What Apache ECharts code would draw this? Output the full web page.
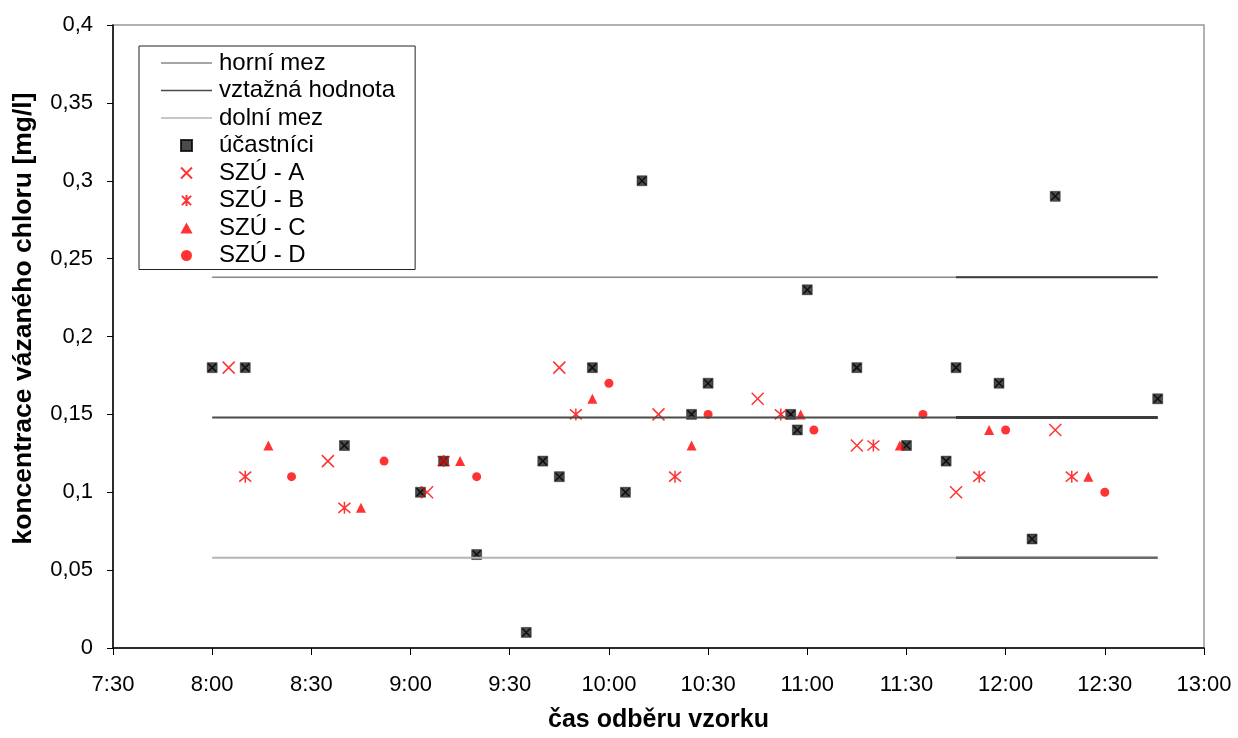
<!DOCTYPE html>
<html>
<head>
<meta charset="utf-8">
<script src="https://cdn.jsdelivr.net/npm/echarts@6/dist/echarts.min.js"></script>
<style>
    html, body { margin: 0; padding: 0; background: #fff; }
    #chart { width: 1238px; height: 738px; }
</style>
</head>
<body>
<div id="chart"></div>
<script>
    // limit lines
    var limitNames = ['horní mez', 'vztažná hodnota', 'dolní mez'];
    var limitValues = [0.238, 0.148, 0.058];
    var limitSpan = ['8:00', '12:46'];
    var limitSplit = '11:45';

    // participants
    var ucTimes = ['8:00', '8:10', '8:40', '9:03', '9:10', '9:20', '9:35', '9:40', '9:45', '9:55', '10:05', '10:10', '10:25',
        '10:30', '10:55', '10:57', '11:00', '11:15', '11:30', '11:42', '11:45', '11:58', '12:08', '12:15', '12:46'];
    var ucValues = [0.18, 0.18, 0.13, 0.10, 0.12, 0.06, 0.01, 0.12, 0.11, 0.18, 0.10, 0.30, 0.15,
        0.17, 0.15, 0.14, 0.23, 0.18, 0.13, 0.12, 0.18, 0.17, 0.07, 0.29, 0.16];

    var aTimes = ['8:05', '8:35', '9:05', '9:45', '10:15', '10:45', '11:15', '11:45', '12:15'];
    var aValues = [0.18, 0.12, 0.10, 0.18, 0.15, 0.16, 0.13, 0.10, 0.14];

    var bTimes = ['8:10', '8:40', '9:10', '9:50', '10:20', '10:52', '11:20', '11:52', '12:20'];
    var bValues = [0.11, 0.09, 0.12, 0.15, 0.11, 0.15, 0.13, 0.11, 0.11];

    var cTimes = ['8:17', '8:45', '9:15', '9:55', '10:25', '10:58', '11:28', '11:55', '12:25'];
    var cValues = [0.13, 0.09, 0.12, 0.16, 0.13, 0.15, 0.13, 0.14, 0.11];

    var dTimes = ['8:24', '8:52', '9:20', '10:00', '10:30', '11:02', '11:35', '12:00', '12:30'];
    var dValues = [0.11, 0.12, 0.11, 0.17, 0.15, 0.14, 0.15, 0.14, 0.10];

    function toMin(t) {
        var p = t.split(':');
        return parseInt(p[0], 10) * 60 + parseInt(p[1], 10);
    }
    function pairs(times, values) {
        return times.map(function (t, i) { return [toMin(t), values[i]]; });
    }

    var xPath = 'path://M0,0L10,10M10,0L0,10';
    var starPath = 'path://M0,0L10,10M10,0L0,10M5,-1L5,11';
    var barPath = 'path://M0,0L50,0L50,1.6L0,1.6Z';
    var squarePath = 'path://M0,0L10,0L10,10L0,10Z';
    var trianglePath = 'path://M5,0L10,9L0,9Z';

    var leftColors = ['#888888', '#4a4a4a', '#b4b4b4'];
    var leftWidths = [1.5, 2, 2];
    var rightColors = ['#3c3c3c', '#3c3c3c', '#6a6a6a'];
    var rightWidths = [2, 3, 2.5];

    var series = [];
    limitNames.forEach(function (name, i) {
        series.push({
            name: name,
            type: 'line',
            symbol: 'none',
            silent: true,
            lineStyle: { color: leftColors[i], width: leftWidths[i] },
            itemStyle: { color: leftColors[i] },
            data: [[toMin(limitSpan[0]), limitValues[i]], [toMin(limitSpan[1]), limitValues[i]]]
        });
    });
    limitNames.forEach(function (name, i) {
        series.push({
            name: name + ' 2',
            type: 'line',
            symbol: 'none',
            silent: true,
            lineStyle: { color: rightColors[i], width: rightWidths[i] },
            data: [[toMin(limitSplit), limitValues[i]], [toMin(limitSpan[1]), limitValues[i]]]
        });
    });

    series.push({
        name: 'účastníci',
        type: 'scatter',
        symbol: 'rect',
        symbolSize: 10,
        itemStyle: { color: '#1e1e1e', borderColor: '#000', borderWidth: 0.5 },
        data: pairs(ucTimes, ucValues)
    });
    // dark cross drawn over the squares
    series.push({
        name: 'účastníci x',
        type: 'scatter',
        symbol: xPath,
        symbolSize: 8,
        silent: true,
        itemStyle: { color: 'rgba(0,0,0,0)', borderColor: '#000', borderWidth: 1.5 },
        data: pairs(ucTimes, ucValues)
    });
    series.push({
        name: 'SZÚ - A',
        type: 'scatter',
        symbol: xPath,
        symbolSize: 12,
        itemStyle: { color: 'rgba(0,0,0,0)', borderColor: '#ff0000', borderWidth: 1.5 },
        data: pairs(aTimes, aValues)
    });
    series.push({
        name: 'SZÚ - B',
        type: 'scatter',
        symbol: starPath,
        symbolSize: 12,
        itemStyle: { color: 'rgba(0,0,0,0)', borderColor: '#ff0000', borderWidth: 1.5 },
        data: pairs(bTimes, bValues)
    });
    series.push({
        name: 'SZÚ - C',
        type: 'scatter',
        symbol: 'triangle',
        symbolSize: 10,
        itemStyle: { color: '#ff0000' },
        data: pairs(cTimes, cValues)
    });
    series.push({
        name: 'SZÚ - D',
        type: 'scatter',
        symbol: 'circle',
        symbolSize: 9,
        itemStyle: { color: '#ff0000' },
        data: pairs(dTimes, dValues)
    });

    var chart = echarts.init(document.getElementById('chart'));
    chart.setOption({
        animation: false,
        textStyle: { fontFamily: 'Liberation Sans, Arial, sans-serif' },
        grid: {
            left: 113, right: 34, top: 25, bottom: 89,
            show: true, borderColor: '#999', borderWidth: 1.5
        },
        legend: {
            orient: 'vertical',
            left: 139,
            top: 46,
            padding: [5, 20, 2, 22],
            itemWidth: 51,
            itemHeight: 11,
            itemGap: 3.5,
            backgroundColor: '#fff',
            borderColor: '#222',
            borderWidth: 1,
            borderRadius: 0,
            textStyle: { fontSize: 24, lineHeight: 24, color: '#000', padding: [0, 0, 0, 2] },
            data: [
                { name: 'horní mez', icon: barPath },
                { name: 'vztažná hodnota', icon: barPath },
                { name: 'dolní mez', icon: barPath },
                { name: 'účastníci', icon: squarePath },
                { name: 'SZÚ - A' },
                { name: 'SZÚ - B' },
                { name: 'SZÚ - C', icon: trianglePath },
                { name: 'SZÚ - D', icon: 'circle' }
            ]
        },
        xAxis: {
            type: 'value',
            min: 450,
            max: 780,
            interval: 30,
            name: 'čas odběru vzorku',
            nameLocation: 'middle',
            nameGap: 60,
            nameTextStyle: { fontSize: 25, fontWeight: 'bold', color: '#000' },
            axisLine: { lineStyle: { color: '#000', width: 1.5 } },
            axisTick: { inside: false, length: 7, lineStyle: { color: '#000' } },
            axisLabel: {
                fontSize: 22, color: '#000', margin: 26,
                formatter: function (v) {
                    var h = Math.floor(v / 60), m = v % 60;
                    return h + ':' + (m < 10 ? '0' + m : m);
                }
            },
            splitLine: { show: false }
        },
        yAxis: {
            type: 'value',
            min: 0,
            max: 0.4,
            interval: 0.05,
            name: 'koncentrace vázaného chloru [mg/l]',
            nameLocation: 'middle',
            nameGap: 76,
            nameTextStyle: { fontSize: 26.5, fontWeight: 'bold', color: '#000', padding: [0, 0, 0, 36] },
            axisLine: { show: true, lineStyle: { color: '#000', width: 1.5 } },
            axisTick: { show: true, inside: false, length: 6, lineStyle: { color: '#000' } },
            axisLabel: {
                fontSize: 22, color: '#000', margin: 20,
                formatter: function (v) { return String(+v.toFixed(2)).replace('.', ','); }
            },
            splitLine: { show: false }
        },
        series: series
    });
</script>
</body>
</html>
